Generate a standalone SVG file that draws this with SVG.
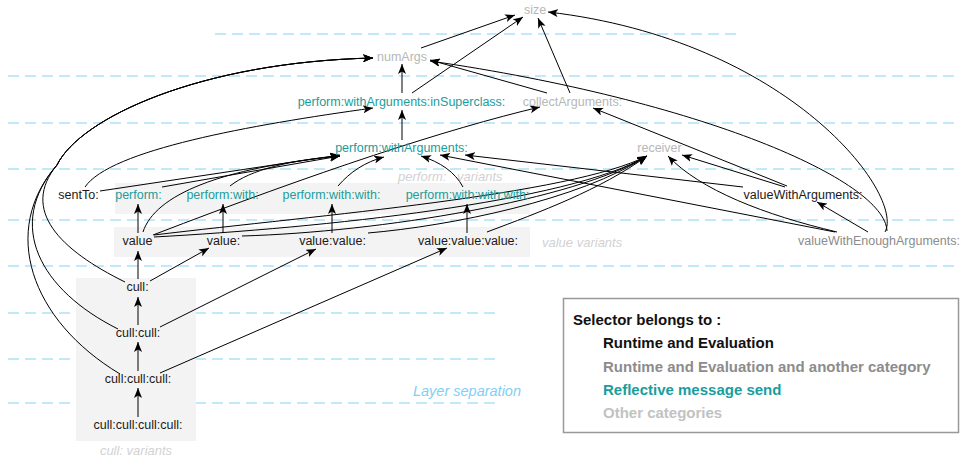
<svg xmlns="http://www.w3.org/2000/svg" width="960" height="460" viewBox="0 0 960 460">
<defs>
<marker id="ah" markerWidth="10" markerHeight="8" refX="10" refY="4" orient="auto" markerUnits="userSpaceOnUse">
<path d="M0,0 L10,4 L0,8 L2.5,4 z" fill="#000"/>
</marker>
<style>
.lay{stroke:#86d3f5;stroke-width:1.2;stroke-dasharray:11 6;fill:none}
.grp{fill:#f3f3f3;stroke:none}
.e{fill:none;stroke:#000;stroke-width:1;marker-end:url(#ah)}
.t{font-family:"Liberation Sans",Arial,sans-serif;font-size:12.5px;text-anchor:middle}
.k{fill:#1a1a1a}
.r{fill:#1a9d9d}
.g{fill:#b7b7b7}
.d{fill:#8c8c8c}
.it{font-family:"Liberation Sans",Arial,sans-serif;font-size:13px;font-style:italic;fill:#d2d2d2}
.lg{font-family:"Liberation Sans",Arial,sans-serif;font-size:15px;font-weight:bold}
</style>
</defs>
<rect width="960" height="460" fill="#fff"/>
<g id="layers">
<line class="lay" x1="215" y1="34" x2="740" y2="34"/>
<line class="lay" x1="8" y1="76" x2="960" y2="76"/>
<line class="lay" x1="8" y1="123" x2="960" y2="123"/>
<line class="lay" x1="8" y1="169" x2="960" y2="169"/>
<line class="lay" x1="8" y1="220" x2="960" y2="220"/>
<line class="lay" x1="8" y1="266" x2="960" y2="266"/>
<line class="lay" x1="8" y1="313" x2="495" y2="313"/>
<line class="lay" x1="8" y1="359" x2="495" y2="359"/>
<line class="lay" x1="8" y1="403" x2="495" y2="403"/>
<text x="467" y="396" style="font-family:'Liberation Sans',Arial,sans-serif;font-size:14.5px;font-style:italic;fill:#7fd0f5;text-anchor:middle">Layer separation</text>
</g>
<g id="groups">
<rect class="grp" x="115" y="183" width="415" height="31"/>
<rect class="grp" x="114" y="227" width="416" height="30"/>
<rect class="grp" x="76" y="278" width="120" height="163"/>
<text class="it" x="398" y="181">perform:<tspan x="457">variants</tspan></text>
<text class="it" x="542" y="247">value variants</text>
<text class="it" x="136" y="455" text-anchor="middle">cull: variants</text>
</g>
<g id="connectors">
<path class="e" d="M421,48 L515,15"/>
<path class="e" d="M402,93 L402,64"/>
<path class="e" d="M412,93 L523,17"/>
<path class="e" d="M570,93 L538,18"/>
<path class="e" d="M547,93 L430,60"/>
<path class="e" d="M887,231 C885,180 700,100 430,61"/>
<path class="e" d="M885,232 C905,195 790,40 548,12"/>
<path class="e" d="M868,232 L817,202"/>
<path class="e" d="M837,232 C765,215 700,190 668,156"/>
<path class="e" d="M835,232 L440,155"/>
<path class="e" d="M743,187 L465,155"/>
<path class="e" d="M785,187 L682,155"/>
<path class="e" d="M787,186 L593,108"/>
<path class="e" d="M402,140 L402,110"/>
<path class="e" d="M85,187 C110,150 250,125 373,108"/>
<path class="e" d="M100,191 L340,155"/>
<path class="e" d="M162,187 L340,156"/>
<path class="e" d="M230,186 C250,170 290,160 340,156"/>
<path class="e" d="M143,232 C155,195 220,168 340,156"/>
<path class="e" d="M338,186 C350,172 365,162 384,157"/>
<path class="e" d="M463,187 C455,172 440,162 421,156"/>
<path class="e" d="M153,235 Q400,140 540,107"/>
<path class="e" d="M154,235 C320,215 570,195 647,156"/>
<path class="e" d="M154,237 C320,228 570,202 647,156"/>
<path class="e" d="M242,236 C380,232 575,200 647,156"/>
<path class="e" d="M368,233 C450,226 580,200 647,156"/>
<path class="e" d="M487,232 C540,212 600,190 647,156"/>
<path class="e" d="M138,233 L138,204"/>
<path class="e" d="M223,233 L223,204"/>
<path class="e" d="M332,233 L332,204"/>
<path class="e" d="M467,233 L467,204"/>
<path class="e" d="M138,279 L138,251"/>
<path class="e" d="M138,325 L138,297"/>
<path class="e" d="M138,371 L138,342"/>
<path class="e" d="M138,417 L138,388"/>
<path class="e" d="M150,281 L209,248"/>
<path class="e" d="M160,327 L316,249"/>
<path class="e" d="M160,373 L447,248"/>
<path class="e" d="M125,282 C60,250 20,210 57,165 C80,118 200,62 373,58"/>
<path class="e" d="M118,329 C40,290 5,225 57,165 C80,118 200,62 373,58"/>
<path class="e" d="M120,374 C30,320 0,230 57,165 C80,118 200,62 373,58"/>
</g>
<g id="n-size"><text class="t g" x="535" y="14">size</text></g>
<g id="n-numArgs"><text class="t g" x="402" y="61">numArgs</text></g>
<g id="n-inSuperclass"><text class="t r" x="401.5" y="106">perform:withArguments:inSuperclass:</text></g>
<g id="n-collectArguments"><text class="t g" x="572.5" y="106">collectArguments:</text></g>
<g id="n-performWithArguments"><text class="t r" x="401.5" y="152">perform:withArguments:</text></g>
<g id="n-receiver"><text class="t g" x="659.5" y="152">receiver</text></g>
<g id="n-sentTo"><text class="t k" x="78.5" y="199">sentTo:</text></g>
<g id="n-perform"><text class="t r" x="138.5" y="199">perform:</text></g>
<g id="n-performWith"><text class="t r" x="222.5" y="199">perform:with:</text></g>
<g id="n-performWithWith"><text class="t r" x="331.5" y="199">perform:with:with:</text></g>
<g id="n-performWithWithWith"><text class="t r" x="467.5" y="199">perform:with:with:with:</text></g>
<g id="n-valueWithArguments"><text class="t k" x="803" y="199">valueWithArguments:</text></g>
<g id="n-value"><text class="t k" x="137.5" y="245">value</text></g>
<g id="n-value1"><text class="t k" x="223.5" y="245">value:</text></g>
<g id="n-value2"><text class="t k" x="332.5" y="245">value:value:</text></g>
<g id="n-value3"><text class="t k" x="468" y="245">value:value:value:</text></g>
<g id="n-valueWithEnoughArguments"><text class="t d" x="879" y="245">valueWithEnoughArguments:</text></g>
<g id="n-cull1"><text class="t k" x="137.5" y="291">cull:</text></g>
<g id="n-cull2"><text class="t k" x="138" y="337">cull:cull:</text></g>
<g id="n-cull3"><text class="t k" x="138" y="383">cull:cull:cull:</text></g>
<g id="n-cull4"><text class="t k" x="138" y="429">cull:cull:cull:cull:</text></g>
<g id="legend">
<rect x="563.5" y="298.5" width="395" height="134" fill="#fff" stroke="#999" stroke-width="1.5"/>
<text class="lg" x="573" y="325" fill="#111">Selector belongs to :</text>
<text class="lg" x="603" y="348" fill="#111">Runtime and Evaluation</text>
<text class="lg" x="603" y="371.5" fill="#8c8c8c">Runtime and Evaluation and another category</text>
<text class="lg" x="603" y="395" fill="#1a9d9d">Reflective message send</text>
<text class="lg" x="603" y="418" fill="#c2c2c2">Other categories</text>
</g>
</svg>
